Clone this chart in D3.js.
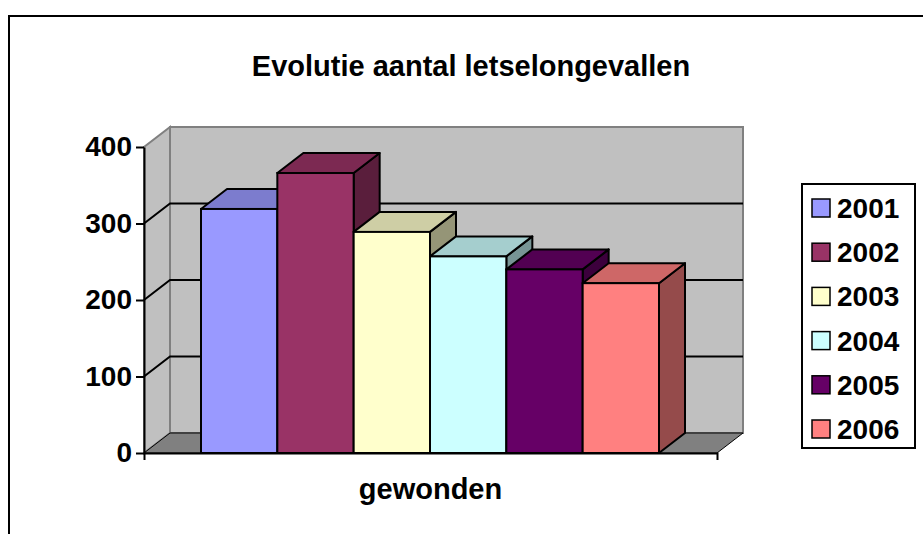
<!DOCTYPE html>
<meta charset="utf-8">
<style>
body { margin: 0; background: #fff; }
text { font-family: "Liberation Sans", Arial, sans-serif; font-weight: bold; }
.axis path, .axis line { stroke: #000; stroke-width: 2px; }
.axis text { font-size: 28px; fill: #000; }
</style>
<svg width="923" height="534"></svg>
<script src="https://d3js.org/d3.v7.min.js"></script>
<script>

var years = ["2001", "2002", "2003", "2004", "2005", "2006"];
var values = [319, 366, 289, 257, 240, 222];
var colors = ["#9999ff", "#993366", "#ffffcc", "#ccffff", "#660066", "#ff8080"];
var yTicks = [0, 100, 200, 300, 400];
var category = "gewonden";

var svg = d3.select("svg");

// outer frame (runs off the right/bottom edge)
svg.append("rect")
    .attr("x", 9).attr("y", 16)
    .attr("width", 940).attr("height", 540)
    .attr("fill", "#fff").attr("stroke", "#000").attr("stroke-width", 2);

var left = 144, right = 717, dx = 26, dy = -20;

var y = d3.scaleLinear().domain([0, 400]).range([453, 147]);

var x = d3.scaleBand()
    .domain(years)
    .range([201, 659])
    .paddingInner(0);

var g = svg.append("g");

// back wall
g.append("rect")
    .attr("x", left + dx).attr("y", y(400) + dy)
    .attr("width", right - left).attr("height", y(0) - y(400))
    .attr("fill", "#c0c0c0").attr("stroke", "#808080").attr("stroke-width", 2);

// side wall
g.append("path")
    .attr("d", "M" + left + "," + y(0) + "L" + left + "," + y(400) +
      "L" + (left + dx) + "," + (y(400) + dy) + "L" + (left + dx) + "," + (y(0) + dy) + "Z")
    .attr("fill", "#c0c0c0").attr("stroke", "#808080").attr("stroke-width", 2);

// floor
g.append("path")
    .attr("d", "M" + left + "," + y(0) + "L" + (left + dx) + "," + (y(0) + dy) +
      "L" + (right + dx) + "," + (y(0) + dy) + "L" + right + "," + y(0) + "Z")
    .attr("fill", "#808080").attr("stroke", "#000").attr("stroke-width", 1);

// gridlines on side + back walls
yTicks.filter(function(d) { return d > 0 && d < 400; }).forEach(function(d) {
  g.append("path")
      .attr("d", "M" + left + "," + y(d) + "L" + (left + dx) + "," + (y(d) + dy) +
        "L" + (right + dx) + "," + (y(d) + dy))
      .attr("fill", "none").attr("stroke", "#000").attr("stroke-width", 2);
});

// bars
var bars = g.selectAll(".bar")
    .data(years.map(function(yr, i) { return {year: yr, value: values[i], color: colors[i]}; }))
  .enter().append("g")
    .attr("class", "bar");

bars.append("path")
    .attr("d", function(d) {
      var x1 = x(d.year) + x.bandwidth(), t = y(d.value), b = y(0);
      return "M" + x1 + "," + t + "L" + (x1 + dx) + "," + (t + dy) +
        "L" + (x1 + dx) + "," + (b + dy) + "L" + x1 + "," + b + "Z";
    })
    .attr("fill", function(d) { return d3.color(d.color).darker(1.5); })
    .attr("stroke", "#000").attr("stroke-width", 2).attr("stroke-linejoin", "round");

bars.append("path")
    .attr("d", function(d) {
      var x0 = x(d.year), x1 = x0 + x.bandwidth(), t = y(d.value);
      return "M" + x0 + "," + t + "L" + (x0 + dx) + "," + (t + dy) +
        "L" + (x1 + dx) + "," + (t + dy) + "L" + x1 + "," + t + "Z";
    })
    .attr("fill", function(d) { return d3.color(d.color).darker(0.6); })
    .attr("stroke", "#000").attr("stroke-width", 2).attr("stroke-linejoin", "round");

bars.append("rect")
    .attr("x", function(d) { return x(d.year); })
    .attr("y", function(d) { return y(d.value); })
    .attr("width", x.bandwidth())
    .attr("height", function(d) { return y(0) - y(d.value); })
    .attr("fill", function(d) { return d.color; })
    .attr("stroke", "#000").attr("stroke-width", 2);

// y axis
svg.append("g")
    .attr("class", "axis")
    .attr("transform", "translate(" + left + ",0)")
    .call(d3.axisLeft(y).tickValues(yTicks).tickSize(8).tickSizeOuter(0).tickPadding(4));

// x axis
var xc = d3.scaleBand().domain([category]).range([left, right]);
svg.append("g")
    .attr("class", "axis")
    .attr("transform", "translate(0," + y(0) + ")")
    .call(d3.axisBottom(xc).tickSize(0).tickSizeOuter(7).tickPadding(14))
    .selectAll(".tick text").attr("x", 0).attr("dy", "1.1em").style("font-size", "29px");

// title
svg.append("text")
    .attr("x", 471).attr("y", 76)
    .attr("text-anchor", "middle")
    .style("font-size", "29px")
    .text("Evolutie aantal letselongevallen");

// legend
var legend = svg.append("g");
legend.append("rect")
    .attr("x", 802).attr("y", 184).attr("width", 113).attr("height", 264)
    .attr("fill", "#fff").attr("stroke", "#000").attr("stroke-width", 2);

var ly = d3.scalePoint().domain(years).range([208, 429]);
var items = legend.selectAll(".item")
    .data(years.map(function(yr, i) { return {year: yr, color: colors[i]}; }))
  .enter().append("g")
    .attr("transform", function(d) { return "translate(0," + ly(d.year) + ")"; });

items.append("rect")
    .attr("x", 812).attr("y", -9).attr("width", 18).attr("height", 18)
    .attr("fill", function(d) { return d.color; })
    .attr("stroke", "#000").attr("stroke-width", 1.5);

items.append("text")
    .attr("x", 837).attr("y", 10)
    .style("font-size", "28px")
    .text(function(d) { return d.year; });

</script>
